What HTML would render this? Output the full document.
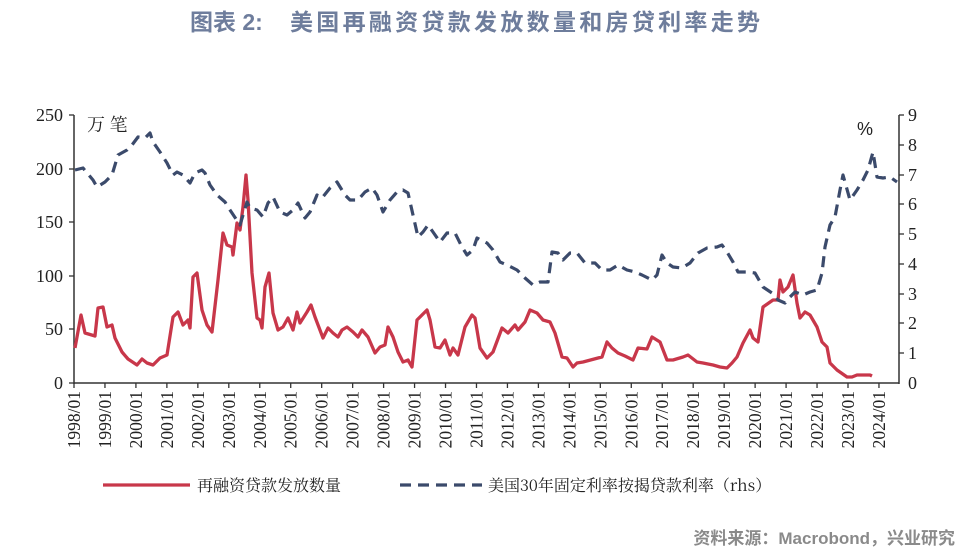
<!DOCTYPE html><html><head><meta charset="utf-8"><style>body{margin:0;background:#fff}svg{display:block}</style></head><body>
<svg width="961" height="553" viewBox="0 0 961 553" xmlns="http://www.w3.org/2000/svg">
<text x="190" y="30" font-family="Liberation Sans,'Noto Sans CJK SC',sans-serif" font-size="23" font-weight="bold" fill="#6e7d9c">图表 2:</text>
<text x="290" y="30" font-family="Liberation Sans,'Noto Sans CJK SC',sans-serif" font-size="23" font-weight="bold" fill="#6e7d9c" textLength="470">美国再融资贷款发放数量和房贷利率走势</text>
<g stroke="#333" stroke-width="1.5" fill="none">
<line x1="74" y1="115" x2="74" y2="384"/><line x1="899" y1="115" x2="899" y2="384"/><line x1="74" y1="383" x2="899" y2="383"/>
</g>
<g stroke="#333" stroke-width="1.3">
<line x1="69" y1="115" x2="74" y2="115"/><line x1="69" y1="169" x2="74" y2="169"/><line x1="69" y1="222" x2="74" y2="222"/><line x1="69" y1="276" x2="74" y2="276"/><line x1="69" y1="329" x2="74" y2="329"/><line x1="69" y1="383" x2="74" y2="383"/>
<line x1="899" y1="115" x2="904" y2="115"/><line x1="899" y1="145" x2="904" y2="145"/><line x1="899" y1="175" x2="904" y2="175"/><line x1="899" y1="204" x2="904" y2="204"/><line x1="899" y1="234" x2="904" y2="234"/><line x1="899" y1="264" x2="904" y2="264"/><line x1="899" y1="294" x2="904" y2="294"/><line x1="899" y1="323" x2="904" y2="323"/><line x1="899" y1="353" x2="904" y2="353"/>
</g>
<g id="xt" stroke="#333" stroke-width="1.3"></g>
<g font-family="Liberation Serif,serif" font-size="18" fill="#222" text-anchor="end">
<text x="63" y="121">250</text><text x="63" y="175">200</text><text x="63" y="228">150</text><text x="63" y="282">100</text><text x="63" y="335">50</text><text x="63" y="389">0</text>
</g>
<g font-family="Liberation Serif,serif" font-size="18" fill="#222">
<text x="908" y="121">9</text><text x="908" y="151">8</text><text x="908" y="181">7</text><text x="908" y="210">6</text><text x="908" y="240">5</text><text x="908" y="270">4</text><text x="908" y="300">3</text><text x="908" y="329">2</text><text x="908" y="359">1</text><text x="908" y="389">0</text>
</g>
<text x="87" y="131" font-family="'Noto Serif CJK SC',serif" font-size="18" fill="#222">万 笔</text>
<text x="857" y="135" font-family="Liberation Sans,sans-serif" font-size="18" fill="#222">%</text>
<g id="xl" font-family="Liberation Serif,serif" font-size="17.5" fill="#222"></g>
<polyline fill="none" stroke="#c8374a" stroke-width="3.3" stroke-linejoin="round" points="75,348 81,315 85,333 95,336 98,308 103,307 107,327 112,325 115,338 122,352 128,359 137,365 142,359 147,363 153,365 160,358 167,355 173,317 178,312 183,325 188,320 190,328 193,277 197,273 202,310 207,325 212,332 218,280 223,233 227,245 232,247 233,255 237,223 240,230 243,207 246,175 248,200 252,273 257,318 260,320 262,328 265,287 269,273 273,313 278,330 283,327 288,318 293,330 297,312 300,323 307,312 311,305 315,317 323,338 328,328 333,333 338,337 342,330 347,327 353,332 358,337 362,330 368,337 375,353 380,347 385,345 388,327 393,337 398,352 403,362 408,360 412,367 417,320 422,315 427,310 430,320 435,347 440,348 445,340 450,355 453,348 458,355 465,327 472,315 475,318 480,348 487,358 493,352 502,328 508,333 515,325 518,330 525,322 530,310 537,313 543,320 550,322 555,333 562,357 567,358 573,367 577,363 583,362 598,358 602,357 607,342 612,348 618,353 625,356 633,360 638,348 647,349 652,337 660,342 667,360 673,360 683,357 688,355 697,362 703,363 713,365 720,367 727,368 732,363 737,357 743,343 750,330 753,338 758,342 763,307 773,300 778,300 780,280 783,292 788,287 793,275 797,303 800,318 805,312 810,315 817,327 822,342 827,347 830,363 837,370 847,377 852,377 857,375 870,375 872,376"/>
<polyline fill="none" stroke="#3b4a6b" stroke-width="3.2" stroke-dasharray="11,7" stroke-linejoin="round" points="75,170 83,168 93,180 97,187 105,182 112,175 118,155 127,150 132,145 138,137 145,138 150,133 153,142 160,152 167,163 173,175 177,172 183,175 190,183 195,173 202,170 205,173 210,185 217,195 225,202 230,210 240,225 247,202 250,208 257,210 263,217 268,203 273,197 280,212 287,215 293,210 298,203 305,218 310,212 317,195 322,198 330,188 337,182 345,195 350,200 358,200 365,192 372,188 377,195 383,212 390,200 397,192 403,190 408,193 413,215 418,237 423,232 428,225 433,232 440,242 447,233 455,233 462,247 467,255 473,250 477,238 487,243 493,250 500,262 507,265 517,270 525,278 533,285 540,282 548,282 552,252 558,253 563,260 570,253 577,253 585,263 595,263 602,270 610,270 618,265 627,270 635,272 642,275 652,280 657,275 662,255 667,263 673,267 682,268 690,263 698,253 707,248 717,247 722,245 727,252 733,262 738,272 747,272 755,273 763,287 772,293 778,300 785,303 790,297 795,292 803,295 810,292 817,290 822,273 825,247 830,225 835,217 840,190 843,175 850,200 857,190 863,180 868,170 873,152 877,177 883,178 890,177 897,182"/>
<line x1="103" y1="485" x2="190" y2="485" stroke="#c8374a" stroke-width="3.3"/>
<text x="197" y="491" font-family="'Noto Serif CJK SC',serif" font-size="16" fill="#222">再融资贷款发放数量</text>
<line x1="400" y1="485" x2="482" y2="485" stroke="#3b4a6b" stroke-width="3.2" stroke-dasharray="11,7"/>
<text x="488" y="491" font-family="'Noto Serif CJK SC',serif" font-size="16" fill="#222">美国30年固定利率按揭贷款利率（rhs）</text>
<text x="955" y="544" text-anchor="end" font-family="Liberation Sans,'Noto Sans CJK SC',sans-serif" font-size="17" font-weight="bold" fill="#8a8a8a">资料来源：Macrobond，兴业研究</text>
</svg>
<script>
var xt=document.getElementById('xt'),xl=document.getElementById('xl'),ns='http://www.w3.org/2000/svg';
for(var i=0;i<=26;i++){var x=74+i*30.96;var l=document.createElementNS(ns,'line');l.setAttribute('x1',x);l.setAttribute('x2',x);l.setAttribute('y1',383);l.setAttribute('y2',388);xt.appendChild(l);
var t=document.createElementNS(ns,'text');t.setAttribute('transform','translate('+(x+6)+',391) rotate(-90)');t.setAttribute('text-anchor','end');t.textContent=(1998+i)+'/01';xl.appendChild(t);}
</script>
</body></html>
